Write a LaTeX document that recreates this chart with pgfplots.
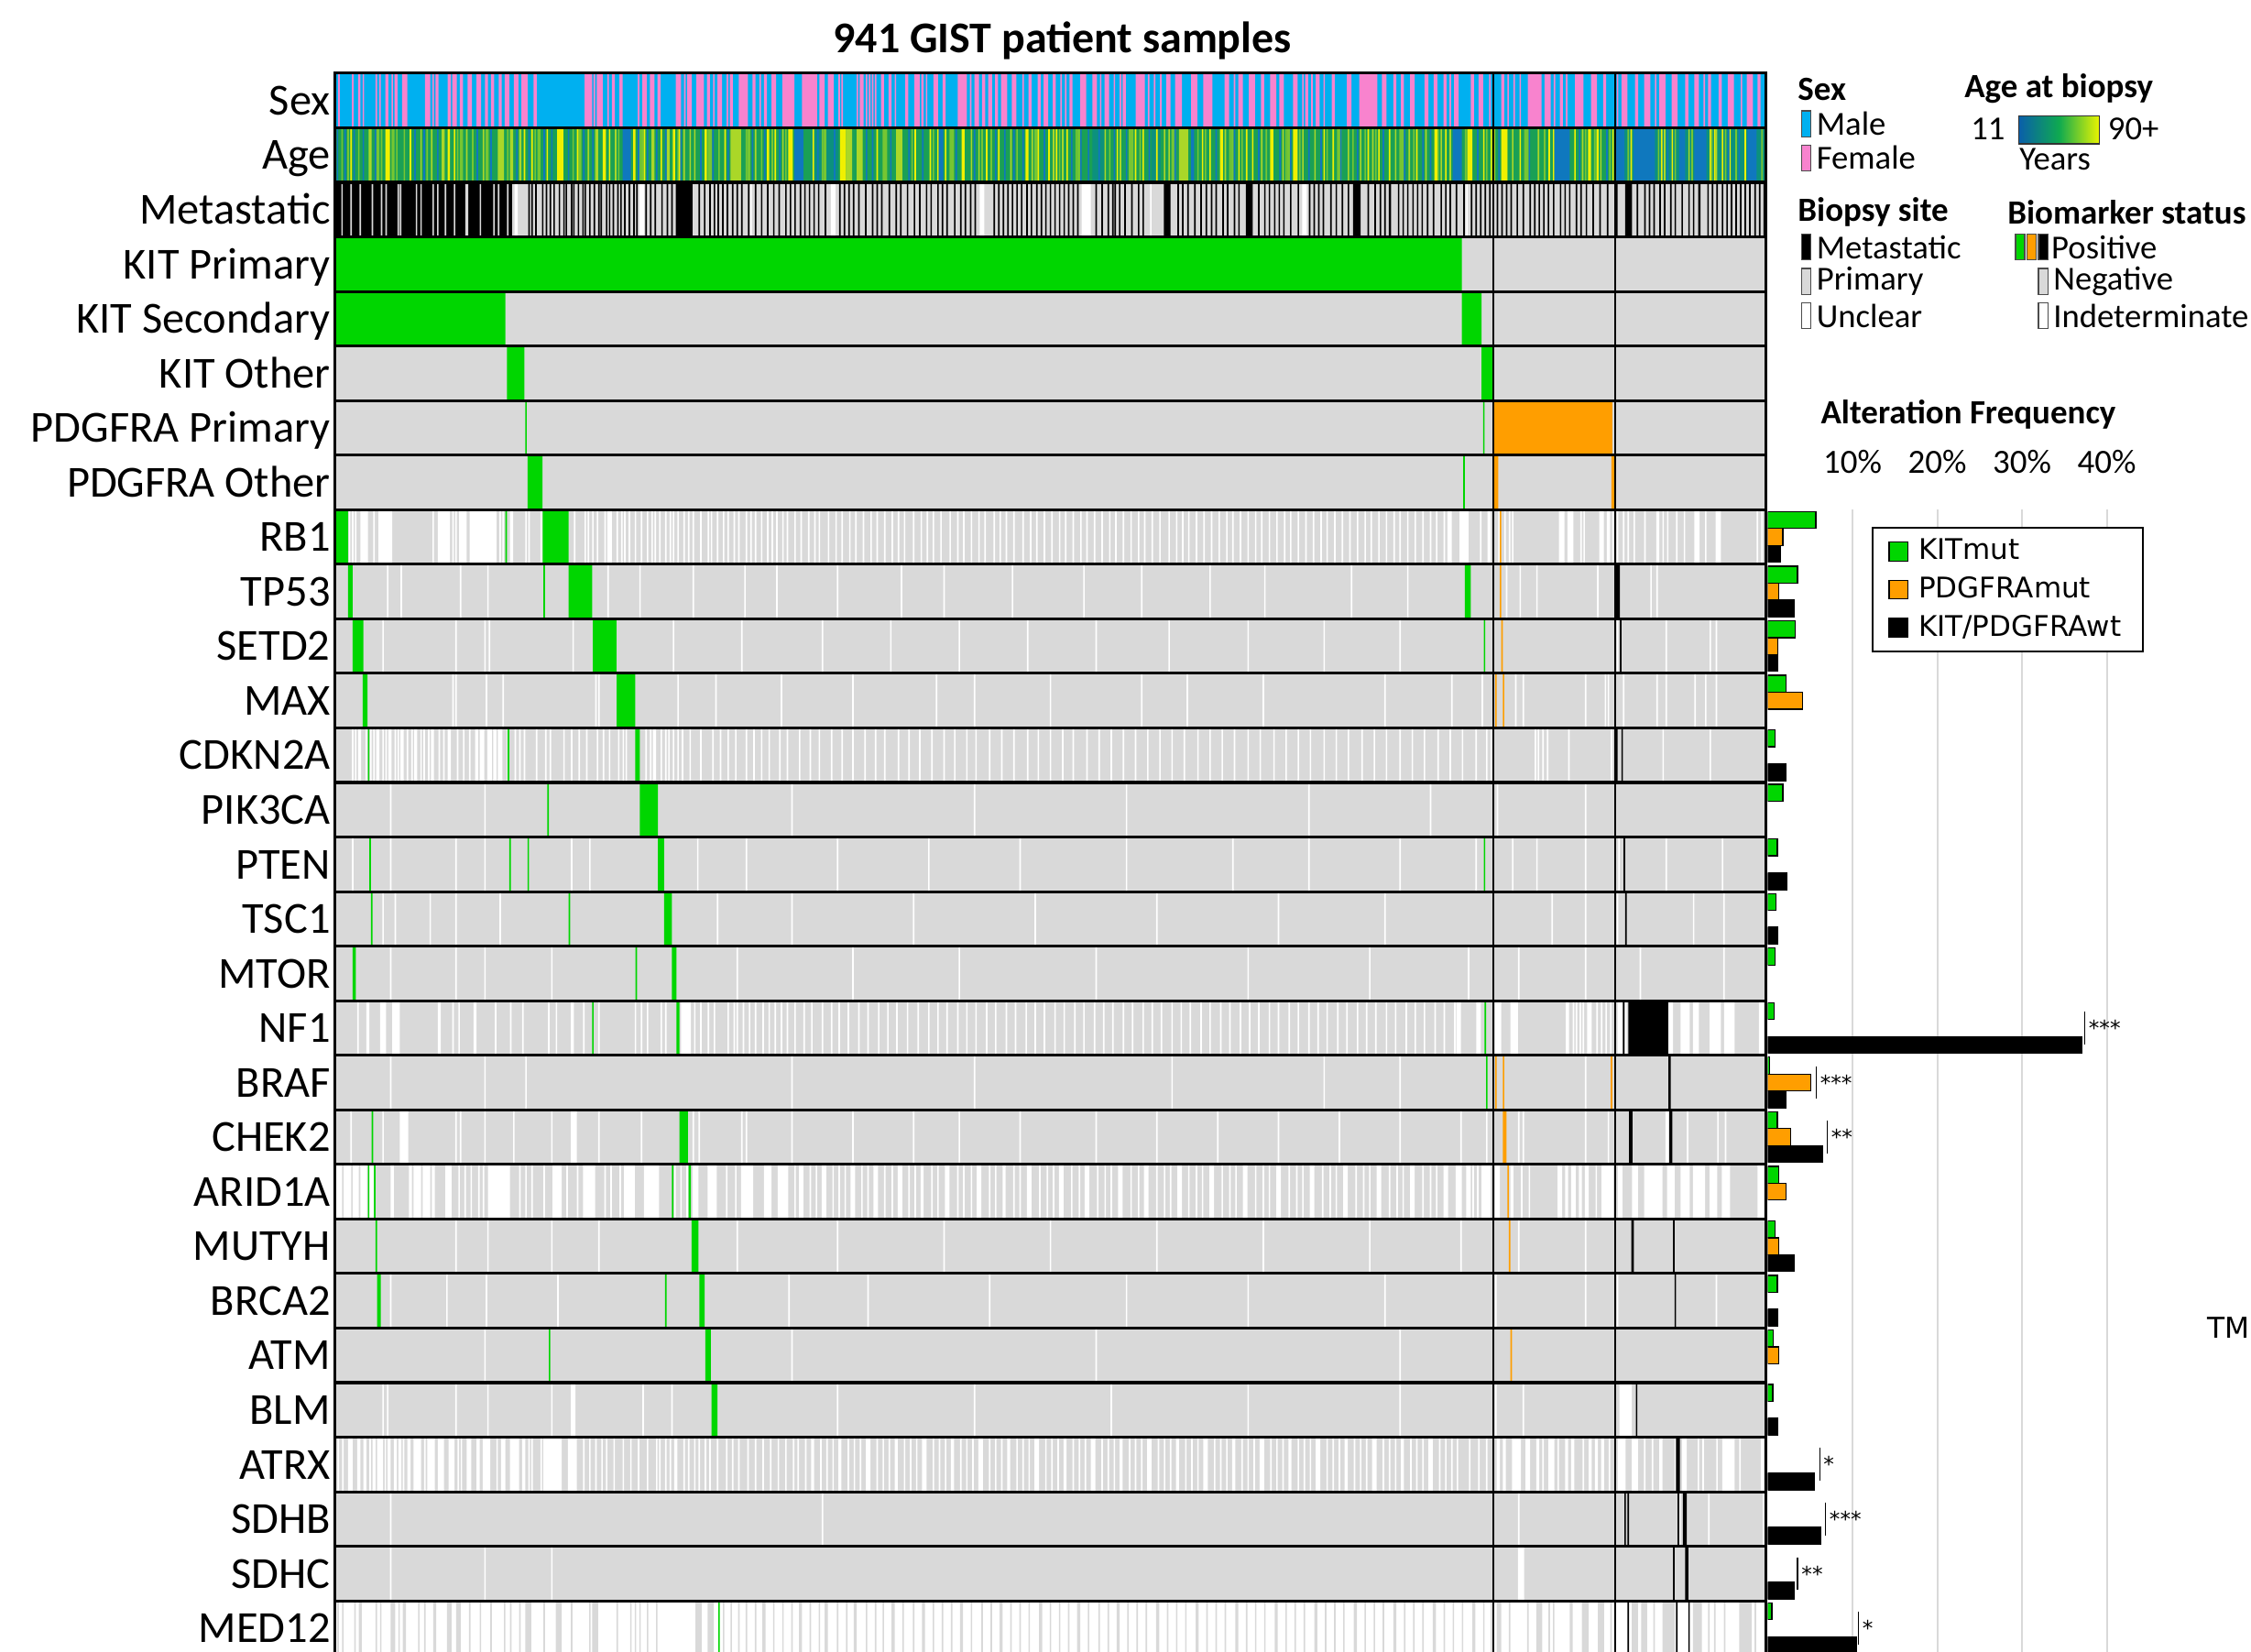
\documentclass[border=0pt]{standalone}
\usepackage{pgfplots}
\pgfplotsset{compat=1.18}
\usepackage{fontspec}
\setmainfont{Carlito}
\newfontfamily\djv{DejaVu Sans}
\definecolor{kg}{RGB}{0,214,0}
\definecolor{neg}{RGB}{217,217,217}
\definecolor{po}{RGB}{255,158,0}
\definecolor{male}{RGB}{0,176,240}
\definecolor{fem}{RGB}{248,131,206}
\definecolor{agebase}{RGB}{26,160,85}
\definecolor{ageyel}{RGB}{240,240,0}
\definecolor{ageyg}{RGB}{170,215,40}
\definecolor{agelg}{RGB}{118,198,50}
\definecolor{ageblue}{RGB}{15,120,190}
\definecolor{ageteal}{RGB}{12,145,125}
% segments a/b in row #1 with colour #2
\newcommand\seg[3]{%
  \pgfmathsetmacro\rowlo{#1}\pgfmathsetmacro\rowhi{#1+1}%
  \gdef\coordlist{}%
  \foreach \sa/\sb in {#3}{\xdef\coordlist{\coordlist(\sa,\rowlo)(\sb,\rowlo)(\sb,\rowhi)(\sa,\rowhi)(\sa,\rowlo)}}%
  \edef\doplot{\noexpand\addplot[draw=none,fill=#2,forget plot] coordinates {\coordlist};}\doplot}
% single-sample stripes at a (a to a+1)
\newcommand\stp[3]{%
  \pgfmathsetmacro\rowlo{#1}\pgfmathsetmacro\rowhi{#1+1}%
  \gdef\coordlist{}%
  \foreach \sa in {#3}{\pgfmathsetmacro\sb{\sa+1}\xdef\coordlist{\coordlist(\sa,\rowlo)(\sb,\rowlo)(\sb,\rowhi)(\sa,\rowhi)(\sa,\rowlo)}}%
  \edef\doplot{\noexpand\addplot[draw=none,fill=#2,forget plot] coordinates {\coordlist};}\doplot}
\begin{document}
\begin{tikzpicture}
\begin{axis}[at={(116.75pt,-25.5pt)},anchor=north west,scale only axis,
  width=498.25pt,height=551pt,xmin=0,xmax=941,ymin=0,ymax=29,y dir=reverse,
  axis line style={black,line width=1pt},axis on top,
  xtick=\empty,ytick={0.5,1.5,...,28.5},
  yticklabels={Sex,Age,Metastatic,KIT Primary,KIT Secondary,KIT Other,PDGFRA Primary,PDGFRA Other,RB1,TP53,SETD2,MAX,CDKN2A,PIK3CA,PTEN,TSC1,MTOR,NF1,BRAF,CHEK2,ARID1A,MUTYH,BRCA2,ATM,BLM,ATRX,SDHB,SDHC,MED12},
  major tick length=0pt,typeset ticklabels with strut,
  yticklabel style={font=\fontsize{15.45}{18}\selectfont,inner xsep=1.5pt,yshift=-1.4pt}]
% ---- Sex
\seg{0}{male}{0/941}
\stp{0}{fem}{2,11,18,26.5,29,37,64,170,179,199,229.5,248.5,257.5,279,331,333,343,349,351,353,355,368,388.5,417.5,452,477,480,503,512,516,534.5,538.5,542.5,591,636,642,650,733,759,771,775,779,801.5,809.5,843,868,900,924.5}
\seg{0}{fem}{15/16.5,33/35,39/41,44/47.5,59/62.5,66/68,74/76,77/80,82/84,87/90,93/96,98.5/100.5,102.5/104.5,107.5/109.5,111.5/114.5,117.5/120.5,122.5/126.5,130.5/132.5,164/169,172/176,182/184,187/189,202/205,207/210,212/214,224/227.5,231.5/234.5,237.5/242.5,244.5/246.5,251.5/254.5,259.5/261.5,265.5/271.5,274.5/276.5,282/284,287/290,294/302,307/317,318.5/322,324/328,345/347.5,359/361,364/366,375/377,381/384.5,385.5/387,393.5/396.5,399.5/401.5,409.5/415.5,420.5/423.5,425.5/427.5,429.5/432,434/436,438/442,445/448,456/458,462/464,466/469,472/474,483/485,490/494,498/501,506/509,518/520,526.5/532.5,546.5/549.5,552.5/557,563/567,571/577,585/588,594/597,601/605,609/611,615/619,621/624,630/633,638/640,645/647.5,655.5/657.5,665.5/668.5,673.5/685.5,688.5/691.5,696/698,701/703,707/710,716.5/719,722.5/725,729/731,736/739,747/749,752/755,767/769,784.5/793.5,795.5/799.5,805.5/807.5,815.5/821,826/830,834/836,846/850,855/857,861/865,871/875,879/883,888/890,894/897,903/905,910/912,916/920,928.5/932.5,935.5/937.5}
% ---- Age
\seg{1}{agebase}{0/941}
\seg{1}{ageteal}{313/331,498/506,537/543,842/941}
\stp{1}{agelg}{4,8,15,30,40,45,60,80,90,113,131,156,186,200,225,245,252,270,280,287,296,320,345,360,379,393,404,425,431,448,460,476,487,509,522,529,550,567,572,588,596,612,625,634,652,659,669,677,684,700,709,725,743,757,770,782,795,806,822,828,838,850,870,881,892,905,914,921,938}
\seg{1}{agelg}{27/29,37/39,82/84,99/101,133/135,160/162,201/203,246/248,271/273,321/323,361/363,405/407,461/463,488/490,523/525,551/553,589/591,626/628,660/662,701/703,744/746,783/785,807/809,829/831}
\seg{1}{ageyg}{22/24,70/72,107/111,115/117,121/122.5,171/173,208/210,218/220,260/267,336/340,343/347,369/373,555/561}
\stp{1}{ageyg}{56,63,86,97,166,184,229,233,236,276,294,306,418,423,444,458,472,478,506,516,545,548,585,609,623,636,644,666,674,682,697,706,717,727,733,751,762,774,791,820,832,864,874,890,908,933}
\seg{1}{ageyel}{33/36,74/75.5,146/150,176/178,196/197.5,222/223.5,243/244.5,284/285.5,298/301,332/336,412/414,454/456,582/584,615/617,630/633,723/725,745/748,767/771,824/826}
\stp{1}{ageyel}{10,49,78,124,129,139,159,180,203,214,226,256,289,314,356,381,391,396,401,428,436,462,469,474,481,514,526,531,540,570,575,594,599,603,650,656,679,686,693,711,730,755,760,779,798,801,815,830,840,852,872,879,904,907,912,917,927}
\seg{1}{ageblue}{189/194.5,302/308,397/400,563/565,735/741,802/812,842/848,854/868,884/888,894/902,929/935}
\stp{1}{ageblue}{1,6,12,18,26,52,58,67,93,102,119,127,137,142,153,163,169,199,205,211,217,227,240,248,258,274,282,292,317,328,349,353,365,377,386,408,420,434,440,446,452,466,484,490,495,502,512,520,535,552,579,591,607,621,628,640,648,661,672,689,703,715,720,751,765,785,818,836,876,916,923}
% ---- Metastatic
\seg{2}{neg}{0/941}
\seg{2}{black}{0/116.3}
\stp{2}{neg}{4,10,16,24,30,33,41,42.5,53,56,64,67,72,78,85.5,86.5,95,104,107,113}
\seg{2}{white}{118/120,200/203,326/329,424/427,491/497,636/639}
\stp{2}{white}{273,536,744}
\seg{2}{black}{224/235,545/549.5,599/603.5,669.5/674.5,693/694.5,848.5/853,896.5/898}
\stp{2}{black}{127,129,131.5,136,138.5,141,143.5,147,150,151.5,155,156.5,159.5,162.5,164,167,170,173,174.5,178,180,182.5,185.5,187.5,190,193,196,198,204,207,210,214.5,218,221,239,242.5,246,249,251.5,254.5,257.5,261,264,267,271.5,276,280,284,288,291.5,296,299,302,305.5,308.5,311.5,314.5,317.5,322,331.5,334.5,337.5,340.5,344,348.5,353,356,359,364,368.5,371.5,376,380.5,384,388.5,391.5,396,399,402,407,411,414,417.5,420.5,433,436,439,442,445,448,451,454.5,457.5,461,464,467,470,473,476,479,482,485,488,500,504,508,511,512.5,515.5,519,523.5,528,531,554,557,560.5,565,569,572.5,576,579,583.5,586.5,591,594,607,611,614,617.5,620.5,623.5,628,633,640.5,643.5,646.5,649.5,654.5,658,662,666,679,683.5,687,690,699,702,705,708.5,711.5,714.5,718,722,727,730,733,737,742,747,750,753,756,759,764,767,770,773,777,781,785.5,788.5,791.5,794.5,797.5,801,805.5,808.5,811.5,816,819,822.5,827,831.5,836.5,842.5,856,861,864,867,871,874,878,881,885.5,890,893,902.5,905.5,908.5,912,915,918,921,924,927,930,933.5,936.5,939.5}
% ---- grey background of biomarker rows
\addplot[draw=none,fill=neg,forget plot] coordinates {(0,3)(941,3)(941,28)(0,28)};
% KIT / PDGFRA rows
\seg{3}{kg}{0/741}
\seg{4}{kg}{0/112,741/754}
\seg{5}{kg}{113/124.5,754/762}
\stp{6}{kg}{125,755}
\seg{6}{po}{762.5/840}
\seg{7}{kg}{126.6/136.4}
\stp{7}{kg}{742}
\seg{7}{po}{762.5/765,839.5/842}
% RB1
\seg{8}{white}{16.5/21.5,28.5/37.5,67.5/75.5,81.5/86.5,88.5/106,115/117,179/182,731.5/734.5,739.5/745.5,758/760,805/808.5,810.5/814.5,831.5/834.5,836.5/838.5,869/871,894/897.5,908/911.5}
\stp{8}{white}{9,11,13,25,64,77,79,108,110,125,127,135,157,164,166,169,172,177,185,188,190,193,197,201,205,208,210,213,217,220,222,225,229,232,235,240,245,247,251,255,258,262,265,270,273,276,280,284,287,290,294,297,302,306,311,315,318,324,329,333,338,342,347,352,356,361,366,370,374,380,385,389,393,398,404,409,413,418,423,427,433,437,441,446,452,457,461,466,471,476,480,485,490,494,499,504,509,513,518,523,528,532,537,542,548,553,557,561,566,571,576,581,586,590,595,600,605,609,614,619,624,628,633,638,643,648,652,657,662,667,672,677,681,686,691,696,700,705,710,715,720,724,729,753,765,769,772,774,819,821,840,843,847,850,854,861,873,876,882,887,901,935,938}
\seg{8}{kg}{0/8.5,136.5/153.5}
\stp{8}{kg}{112}
\stp{8}{po}{766}
% TP53
\stp{9}{white}{34,43,82,100,179,200,235,269,290,330,372,400,445,492,530,575,611,668,705,770,779,790,830,865,869}
\seg{9}{kg}{8.5/11.5,153.5/169,743/747}
\stp{9}{kg}{137}
\stp{9}{po}{766}
\seg{9}{black}{842/845}
% SETD2
\stp{10}{white}{31,79,98,101,156,222,267,320,365,410,455,500,548,600,650,700,843,875,904,908}
\seg{10}{kg}{11.5/18.5,169.5/185}
\stp{10}{kg}{755.5}
\stp{10}{po}{767}
\stp{10}{black}{845}
% MAX
\stp{11}{white}{77,79,99,110,171,173,225,250,293,340,395,420,470,530,560,610,690,734,754,776,781,822,835,837,847,869,875,894,901,908}
\seg{11}{kg}{18/21.3,185.2/197.3}
\stp{11}{po}{763,768}
% CDKN2A
\seg{12}{white}{15/17,27/29,35/37,43/45,52/54,63/65,74/76,92/94,95/98,100/103,104/106,107/110,209/211}
\stp{12}{white}{11,13,20,23,25,31,33,39,41,47,50,56,58,61,68,71,80,84,88,113,118,121,124,132,138,141,150,155,160,165,172,176,180,186,189,191,204,207,214,217,219,222,225,228,233,240,248,253,258,263,270,275,280,285,292,297,305,312,318,326,333,340,348,355,361,370,377,384,392,400,407,415,421,430,438,446,455,462,470,478,485,494,502,510,518,526,534,542,550,558,567,575,583,591,600,608,617,625,633,641,650,658,666,675,683,691,700,708,716,725,733,741,750,757,760,789,791,794,797,811,839,873,904}
\stp{12}{kg}{21.5,113.5}
\seg{12}{kg}{197.3/200.3}
\seg{12}{black}{842/843.5,846/847}
% PIK3CA
\stp{13}{white}{36,98,300,420,520,640,720,764,822}
\stp{13}{kg}{139.5}
\seg{13}{kg}{200.3/212.3}
% PTEN
\stp{14}{white}{11,36,79,98,155,167,238,270,330,390,450,520,590,640,700,750,774,790,822,844,875,912}
\stp{14}{kg}{22.5,114.5,126.5,755.5}
\seg{14}{kg}{212.3/216.4}
\stp{14}{black}{847.5}
% TSC1
\stp{15}{white}{31,39,62,79,108,251,300,380,460,540,620,690,800,822,843,893,913}
\stp{15}{kg}{23.5,153.5}
\seg{15}{kg}{216.4/221.4}
\stp{15}{black}{848.5}
% MTOR
\stp{16}{white}{36,79,98,142,264,340,410,500,600,680,745,778,822,858,913}
\seg{16}{kg}{11.5/13.5,221.4/224.4}
\stp{16}{kg}{197.5}
% NF1
\seg{17}{white}{20.5/22.5,29.5/33.5,37.5/42.5,67.5/69.5,91/93,155/157,227.5/234,737.5/740.5,750.5/753.5,763/767,773/778,809.5/811.5,823.5/826.5,843.5/846.8,877/880,885/891,893/897,904/911.5,913.5/920.5,936.5/939.5}
\stp{17}{white}{14.5,77,81,105,115,123,140,145,163,173,197,201,205,214,217,236,240,245,249,258,262,264,268,272,276,281,285,289,293,297,302,308,313,320,326,331,337,344,350,357,363,369,376,383,390,396,402,409,415,421,428,434,441,447,454,460,466,473,479,486,492,499,505,511,518,524,531,537,543,550,556,562,569,575,582,588,595,601,607,614,620,627,633,640,646,652,659,665,672,678,684,691,697,704,710,716,723,729,736,814,816,818.5,820.5,829.5,832.5,835.5,838.5,848.5}
\stp{17}{kg}{169,756}
\seg{17}{kg}{224.4/226.4}
\stp{17}{black}{847}
\seg{17}{black}{850.6/876.8}
% BRAF
\stp{18}{white}{36,98,125,300,420,550,650,700,822}
\stp{18}{kg}{757}
\stp{18}{po}{763,768,839}
\seg{18}{black}{877/878.5}
% CHEK2
\seg{19}{white}{42.5/48,155/159,875/877}
\stp{19}{white}{10,31,79,82,98,117,142,173,201,235,239,267,270,300,340,380,410,450,500,540,580,620,660,700,740,757,778,781,822,837,889,909,914}
\stp{19}{kg}{24}
\seg{19}{kg}{226.4/232}
\seg{19}{po}{768/770.5}
\seg{19}{black}{851/853.3,877.5/879.5}
% ARID1A
\seg{20}{white}{0/21,22.5/25.5,36.5/38.5,48.5/62.5,63.5/65.5,72.5/76.5,100.5/115,143/149,163/171,190/197,203/213,235/239,245/251,267/275,282/287,291/298,305/308,320/323,339/342,354/357,370/373,385/387,401/404,422/425,439/441,455/458,476/479,493/496,515/518,532/535,554/557,575/578,597/600,619/622,641/644,663/666,685/688,707/710,729/732,737/741,744/747,754/760,763/766,773/775,804/807,809/811,813/816,818/820,822/824.5,833/840.7,843.7/846.7,853/856.9,861/873,876/881,885/891,893/901,904/909,912/917.5,935.6/939.7}
\stp{20}{neg}{4.5,10.5,15.5,50.5,56.5}
\stp{20}{white}{81,85,89,94,97,121,125,129,137,152,159,177,181,187,223,227,231,257,263,302,312,316,327,331,335,346,350,361,366,377,381,392,396,409,413,418,430,434,446,450,463,468,472,484,489,501,506,510,523,528,540,545,549,561,566,570,583,588,592,605,610,614,627,632,636,649,654,658,671,676,680,693,698,702,715,720,724,748,751,780,785,829}
\stp{20}{kg}{21.5,25.5,221.5}
\seg{20}{kg}{232.4/234}
\stp{20}{po}{771}
% MUTYH
\stp{21}{white}{79,100,142,173,264,330,400,470,540,610,680,740,778,822}
\stp{21}{kg}{26.5}
\seg{21}{kg}{234.4/239}
\stp{21}{po}{772}
\seg{21}{black}{852.6/854.2}
\stp{21}{black}{880}
% BRCA2
\stp{22}{white}{36,73,99,146,298,350,430,520,600,690,763,822,843,908}
\seg{22}{kg}{27.5/30,239.5/243}
\stp{22}{kg}{217}
\stp{22}{black}{881}
% ATM
\stp{23}{white}{98,300,500,700}
\stp{23}{kg}{140.5}
\seg{23}{kg}{243.5/247}
\stp{23}{po}{773}
% BLM
\seg{24}{white}{155/158,844.7/852.8}
\stp{24}{white}{31,34,79,100,142,202,221,330,420,510,600,700,763,781}
\seg{24}{kg}{247.5/251.5}
\stp{24}{black}{855.5}
% ATRX
\seg{25}{white}{4.5/5.5,8.5/11.5,14.5/16.5,18.5/20.5,24.5/26.5,27.5/31.5,34.5/36.5,38.5/40.5,41.5/43.5,47.5/49.5,51.5/56.5,60.5/65.5,67.5/71.5,74.5/78.5,86.5/89.5,93/95,97/102,109/112,115/121,123/125,137/149,153/159,223/225,313/315,331/333,349/352,368/370,386/389,405/407,423/426,442/444,460/463,479/481,497/500,516/518,534/537,553/555,571/574,590/592,608/611,627/629,645/648,664/666,682/685,701/703,719/722,764/766,768/770,774/780,783/786,790/792,798/802,809/811,813/815,824.5/826.5,828.6/830.6,832.6/834.6,843.7/848.8,852.8/856.9,871/873,881/883,886/889,912.4/920.5,937.7/939.7}
\stp{25}{white}{1.5,22.5,32.5,44.5,58.5,80.5,82.5,106,127,129,135,163,167,171,175,178,183,189,194,199,205,211,213,217,220,229,232,236,239,243,246,251,257,261,265,271,276,281,286,291,296,301,304,309,319,323,327,337,341,345,356,360,364,374,378,382,393,397,401,411,415,419,430,434,438,448,452,456,467,471,475,485,489,493,504,508,512,522,526,530,541,545,549,559,563,567,578,582,586,596,600,604,615,619,623,633,637,641,652,656,660,670,674,678,689,693,697,707,711,715,726,730,734,737.7,745.8,751.8,756.9,794,804,820.5,837.7,860.9,866,896.2,899.3,908.4,923.5}
\seg{25}{black}{882/884.5}
% SDHB
\stp{26}{white}{36,320,778,884,903,939}
\stp{26}{black}{848,850,883}
\seg{26}{black}{886.5/889}
% SDHC
\stp{27}{white}{36,98,142}
\seg{27}{white}{778/782}
\stp{27}{black}{880}
\seg{27}{black}{888/890}
% MED12 (white background, grey = negative)
\seg{28}{neg}{4.5/5.5,15.5/17.5,36.5/39.5,44.5/46.5,64.5/66.5,73.5/76.5,79.5/82.5,125/129,145/149,169/173,237/241,245/249,281/283,305/307,322/324,341/343,366/368,386/388,411/413,437/439,463/465,488/490,514/516,540/542,566/568,592/594,618/620,644/646,670/672,696/698,722/724,748/750,764/767,790/794,812/814,820/824.5,830.5/834.6,852.8/856.9,859/863,873/881,893/899,923.5/931.6}
\stp{28}{neg}{1.4,12.5,26.5,29.5,41.5,54.5,58.5,88,95,102,111,115,121,137,155,167,185,194,197,200,205,211,255,260,265,270,276,288,294,300,312,318,330,336,349,355,360,373,380,393,399,405,418,425,431,444,450,456,470,476,482,495,502,508,521,527,533,547,553,559,573,579,585,599,605,611,625,631,637,651,657,663,677,683,689,703,709,715,729,735,741,755,760,772,784,798,801,838.7,867,903,907,913.4,933.6}
\stp{28}{kg}{252}
\stp{28}{black}{850,882,890}
% ---- row separators and group dividers
\pgfplotsinvokeforeach{1,...,28}{\addplot[black,line width=1pt,forget plot] coordinates {(0,#1)(941,#1)};}
\addplot[black,line width=0.7pt,forget plot] coordinates {(762,0)(762,29)};
\addplot[black,line width=0.7pt,forget plot] coordinates {(842,0)(842,29)};
\end{axis}
% ---- alteration frequency bars
\begin{axis}[at={(615.75pt,-177.5pt)},anchor=north west,scale only axis,
  width=147.5pt,height=399pt,xmin=0,xmax=50,ymin=8,ymax=29,y dir=reverse,
  axis line style={draw=none},ytick=\empty,
  xtick={10,20,30,40},xticklabels={10\%,20\%,30\%,40\%},xticklabel pos=upper,
  major tick length=0pt,xmajorgrids,grid style={color=neg,line width=0.65pt},
  xticklabel style={font=\fontsize{11.8}{14}\selectfont,anchor=base},xticklabel shift=12.75pt,
  legend image code/.code={\draw[#1,draw=black,line width=0.4pt] (0pt,-3.25pt) rectangle (6.5pt,3.25pt);},
  legend style={at={(0.246,0.985)},anchor=north west,draw=black,line width=0.5pt,
    font=\djv\fontsize{9.9}{11}\selectfont,inner xsep=5.5pt,inner ysep=2pt,row sep=0.4pt,column sep=1.5pt},
  legend cell align=left]
\addplot[xbar,bar width=0.31,bar shift=-0.31,fill=kg,draw=black,line width=0.4pt] coordinates {
(5.65,8.5)(3.5,9.5)(3.2,10.5)(2.1,11.5)(0.8,12.5)(1.75,13.5)(1.1,14.5)(0.93,15.5)(0.8,16.5)(0.7,17.5)(0.15,18.5)(1.1,19.5)(1.26,20.5)(0.8,21.5)(1.1,22.5)(0.63,23.5)(0.56,24.5)(0.45,28.5)};
\addlegendentry{KITmut}
\addplot[xbar,bar width=0.31,bar shift=0,fill=po,draw=black,line width=0.4pt] coordinates {
(1.75,8.5)(1.26,9.5)(1.2,10.5)(4.05,11.5)(5.05,18.5)(2.7,19.5)(2.15,20.5)(1.26,21.5)(1.26,23.5)};
\addlegendentry{PDGFRAmut}
\addplot[xbar,bar width=0.31,bar shift=0.31,fill=black,draw=black,line width=0.4pt] coordinates {
(1.5,8.5)(3.1,9.5)(1.1,10.5)(2.1,12.5)(2.2,14.5)(1.1,15.5)(37.1,17.5)(2.1,18.5)(6.5,19.5)(3.05,21.5)(1.1,22.5)(1.1,24.5)(5.5,25.5)(6.25,26.5)(3.05,27.5)(10.4,28.5)};
\addlegendentry{KIT/PDGFRAwt}
% significance brackets
\addplot[black,line width=0.4pt,forget plot] coordinates {(37.4,17.2)(37.4,17.8)};
\addplot[black,line width=0.4pt,forget plot] coordinates {(5.7,18.2)(5.7,18.8)};
\addplot[black,line width=0.4pt,forget plot] coordinates {(7.0,19.2)(7.0,19.8)};
\addplot[black,line width=0.4pt,forget plot] coordinates {(6.1,25.2)(6.1,25.8)};
\addplot[black,line width=0.4pt,forget plot] coordinates {(6.8,26.2)(6.8,26.8)};
\addplot[black,line width=0.4pt,forget plot] coordinates {(3.5,27.2)(3.5,27.8)};
\addplot[black,line width=0.4pt,forget plot] coordinates {(10.7,28.2)(10.7,28.8)};
\begin{scope}[every node/.style={anchor=west,font=\djv\fontsize{7.4}{8}\selectfont,inner sep=0pt}]
\node at (axis cs:37.8,17.5) {***};
\node at (axis cs:6.1,18.5) {***};
\node at (axis cs:7.4,19.5) {**};
\node at (axis cs:6.5,25.5) {*};
\node at (axis cs:7.2,26.5) {***};
\node at (axis cs:3.9,27.5) {**};
\node at (axis cs:11.1,28.5) {*};
\end{scope}
\end{axis}
% ---- title and legends
\node[font=\bfseries\fontsize{15.3}{18}\selectfont] at (370pt,-14.3pt) {941 GIST patient samples};
\begin{scope}[every node/.style={anchor=west,inner sep=0pt}]
\node[font=\bfseries\fontsize{11.8}{13}\selectfont] at (626pt,-31pt) {Sex};
\node[font=\fontsize{11.7}{13}\selectfont] at (632.5pt,-43pt) {Male};
\node[font=\fontsize{11.7}{13}\selectfont] at (632.5pt,-55pt) {Female};
\node[font=\bfseries\fontsize{11.8}{13}\selectfont] at (684pt,-31pt) {Age at biopsy};
\node[font=\fontsize{11.7}{13}\selectfont,anchor=east] at (698.5pt,-44.8pt) {11};
\node[font=\fontsize{11.7}{13}\selectfont] at (734pt,-44.8pt) {90+};
\node[font=\fontsize{11.7}{13}\selectfont,anchor=center] at (715.75pt,-55.5pt) {Years};
\node[font=\bfseries\fontsize{11.8}{13}\selectfont] at (626pt,-73.8pt) {Biopsy site};
\node[font=\fontsize{11.7}{13}\selectfont] at (632.5pt,-86pt) {Metastatic};
\node[font=\fontsize{11.7}{13}\selectfont] at (632.5pt,-98pt) {Primary};
\node[font=\fontsize{11.7}{13}\selectfont] at (632.5pt,-110pt) {Unclear};
\node[font=\bfseries\fontsize{11.8}{13}\selectfont] at (699pt,-73.8pt) {Biomarker status};
\node[font=\fontsize{11.7}{13}\selectfont] at (714.3pt,-86pt) {Positive};
\node[font=\fontsize{11.7}{13}\selectfont] at (715pt,-98pt) {Negative};
\node[font=\fontsize{11.7}{13}\selectfont] at (715pt,-110pt) {Indeterminate};
\node[font=\bfseries\fontsize{11.8}{14}\selectfont] at (634pt,-144.5pt) {Alteration Frequency};
\node[font=\djv\fontsize{10}{12}\selectfont] at (768.5pt,-462.5pt) {TM};
\end{scope}
\begin{scope}[line width=0.4pt]
\draw[fill=male,draw=black!70] (627.4pt,-38.6pt) rectangle (630.6pt,-47.6pt);
\draw[fill=fem,draw=black!70] (627.4pt,-50.6pt) rectangle (630.6pt,-59.6pt);
\draw[fill=black,draw=black!70] (627.4pt,-81.5pt) rectangle (630.6pt,-90.5pt);
\draw[fill=neg,draw=black!70] (627.4pt,-93.5pt) rectangle (630.6pt,-102.5pt);
\draw[fill=white,draw=black!70] (627.4pt,-105.5pt) rectangle (630.6pt,-114.5pt);
\draw[fill=kg,draw=black!70] (702pt,-81.5pt) rectangle (705.2pt,-90.5pt);
\draw[fill=po,draw=black!70] (706pt,-81.5pt) rectangle (709.2pt,-90.5pt);
\draw[fill=black,draw=black!70] (710pt,-81.5pt) rectangle (713.3pt,-90.5pt);
\draw[fill=neg,draw=black!70] (710pt,-93.5pt) rectangle (713.3pt,-102.5pt);
\draw[fill=white,draw=black!70] (710pt,-105.5pt) rectangle (713.3pt,-114.5pt);
\shade[left color={rgb,255:red,10;green,95;blue,170},right color={rgb,255:red,235;green,245;blue,0},middle color={rgb,255:red,15;green,170;blue,80}] (703.15pt,-40.45pt) rectangle (731.2pt,-50.1pt);
\draw[black!80] (703.15pt,-40.45pt) rectangle (731.2pt,-50.1pt);
\end{scope}
\pgfresetboundingbox
\useasboundingbox (0pt,0pt) rectangle (784pt,-575pt);
\end{tikzpicture}
\end{document}
